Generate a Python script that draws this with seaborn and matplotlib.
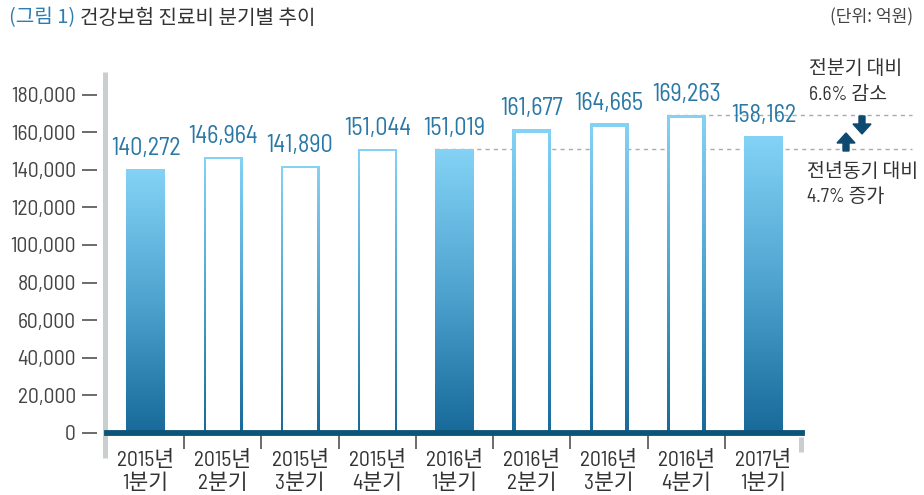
import numpy as np
import pandas as pd
import matplotlib
matplotlib.use('Agg')
import matplotlib.pyplot as plt
import matplotlib.transforms as mtransforms
from matplotlib.colors import LinearSegmentedColormap
from matplotlib.patches import Rectangle, FancyArrow
import seaborn as sns

# ---- data ----
years = ['2015년', '2015년', '2015년', '2015년', '2016년', '2016년', '2016년', '2016년', '2017년']
quarters = ['1분기', '2분기', '3분기', '4분기', '1분기', '2분기', '3분기', '4분기', '1분기']
values = [140272, 146964, 141890, 151044, 151019, 161677, 164665, 169263, 158162]
filled = [True, False, False, False, True, False, False, False, True]
yticks = [0, 20000, 40000, 60000, 80000, 100000, 120000, 140000, 160000, 180000]
title_tag = '(그림 1)'
title_text = '건강보험 진료비 분기별 추이'
unit_text = '(단위: 억원)'
note_qoq = ['전분기 대비', '6.6% 감소']
note_yoy = ['전년동기 대비', '4.7% 증가']

# ---- style ----
sns.set_theme(style='white')
FAM = ['Barlow Semi Condensed', 'Roboto Condensed', 'Open Sans', 'Noto Sans CJK KR', 'DejaVu Sans']
KFAM = ['Noto Sans CJK KR', 'DejaVu Sans']
plt.rcParams['font.family'] = FAM
plt.rcParams['font.stretch'] = 'condensed'

W, H = 924, 495
PT = 72 / 100  # points per pixel
fig = plt.figure(figsize=(W / 100, H / 100), dpi=100)
L, R, T, B = 107, 802, 72, 433
ax = fig.add_axes([L / W, 1 - B / H, (R - L) / W, (B - T) / H])

labels = [f'{y}\n{q}' for y, q in zip(years, quarters)]
df = pd.DataFrame({'label': labels, 'value': values})
sns.barplot(data=df, x='label', y='value', order=labels, color='white', width=0.5,
            linewidth=0, errorbar=None, ax=ax, zorder=3)

YMAX = 192000
ax.set_xlim(-0.5, 8.5)
ax.set_ylim(0, YMAX)
pxx = (R - L) / 9.0
pxy = (B - T) / YMAX

cmap = LinearSegmentedColormap.from_list('g', ['#84d3f6', '#4ea3cf', '#176a99'])
grad = np.linspace(0, 1, 256).reshape(-1, 1)
edge_px = {1: 2.0, 2: 2.0, 3: 2.0, 5: 3.5, 6: 3.5, 7: 3.5}
for i, p in enumerate(ax.patches[:len(values)]):
    x0, w, h = p.get_x(), p.get_width(), p.get_height()
    im = ax.imshow(grad, extent=[x0, x0 + w, 0, h], aspect='auto', cmap=cmap,
                   origin='upper', zorder=3.5)
    im.set_clip_path(p)
    if not filled[i]:
        e = edge_px[i]
        ex, ey = e / pxx, e / pxy
        ax.add_patch(Rectangle((x0 + ex, 0), w - 2 * ex, h - ey, facecolor='white',
                               edgecolor='none', zorder=3.6))
    ax.annotate(f'{values[i]:,}', (i, values[i]), xytext=(0, 10), textcoords='offset points',
                ha='center', va='baseline', fontsize=17.5, color='#2a78a6', zorder=5)

ax.set_xlim(-0.5, 8.5)
ax.set_ylim(0, YMAX)

# dashed reference lines
ax.plot([7 - 0.25, 9.93], [values[7]] * 2, ls=(0, (3, 3)), color='#aaaaaa', lw=1,
        clip_on=False, zorder=2)
ax.plot([4 - 0.25, 9.93], [values[4]] * 2, ls=(0, (3, 3)), color='#aaaaaa', lw=1,
        clip_on=False, zorder=2)

# axes styling
for s in ['top', 'right', 'left']:
    ax.spines[s].set_visible(False)
ax.spines['left'].set_position(('outward', 10 * PT))
ax.spines['bottom'].set_color('#0d5479')
ax.spines['bottom'].set_linewidth(4.2)
ax.spines['bottom'].set_zorder(6)
ax.grid(False)
ax.set_xlabel('')
ax.set_ylabel('')
ax.set_yticks(yticks)
ax.set_yticklabels([f'{v:,}' for v in yticks])
ax.tick_params(axis='y', left=True, length=15 * PT, width=1.1, color='#444444', pad=6 * PT,
               labelsize=15.5, labelcolor='#444444')
ax.set_xticks(range(len(labels)))
ax.set_xticklabels(labels, linespacing=1.2)
for t in ax.get_xticklabels():
    t.set_fontstretch('normal')
ax.tick_params(axis='x', which='major', bottom=True, length=0, pad=17 * PT, labelsize=15.5,
               labelcolor='#333333')
ax.set_xticks([i + 0.5 for i in range(len(labels) - 1)], minor=True)
ax.tick_params(axis='x', which='minor', bottom=True, length=16 * PT, width=1.1, color='#444444')

# gray side bars
ax.plot([-2.5 / (R - L)] * 2, [1, -25 / (B - T)], transform=ax.transAxes, color='#c9ced1',
        lw=3.6, clip_on=False, solid_capstyle='butt', zorder=1)
ax.plot([(801 - L) / (R - L)] * 2, [-4 / (B - T), -19 / (B - T)], transform=ax.transAxes,
        color='#c9ced1', lw=3.6, clip_on=False, solid_capstyle='butt', zorder=1)

# arrows
idt = mtransforms.IdentityTransform()
fig.add_artist(FancyArrow(846, H - 151, 0, 18, width=6, head_width=18, head_length=10,
                          length_includes_head=True, transform=idt, color='#0e4a6f'))
fig.add_artist(FancyArrow(862, H - 116, 0, -18, width=6, head_width=18, head_length=10,
                          length_includes_head=True, transform=idt, color='#0e4a6f'))

# texts
for txt, x, y in [(note_qoq[0], 809, 69), (note_qoq[1], 809, 95),
                  (note_yoy[0], 807, 172), (note_yoy[1], 807, 197)]:
    fig.text(x / W, 1 - y / H, txt, va='center', ha='left', fontsize=14,
             color='#333333', family=FAM, fontstretch='normal')
fig.text(9 / W, 1 - 18 / H, title_tag, va='center', ha='left', fontsize=14.5,
         color='#2d7db3', family=KFAM, fontstretch='normal')
fig.text(80 / W, 1 - 18 / H, title_text, va='center', ha='left', fontsize=14.5,
         color='#333333', family=KFAM, fontstretch='normal')
fig.text(913 / W, 1 - 17 / H, unit_text, va='center', ha='right', fontsize=12.3,
         color='#444444', family=KFAM, fontstretch='normal')

fig.savefig('out.png', dpi=100)
